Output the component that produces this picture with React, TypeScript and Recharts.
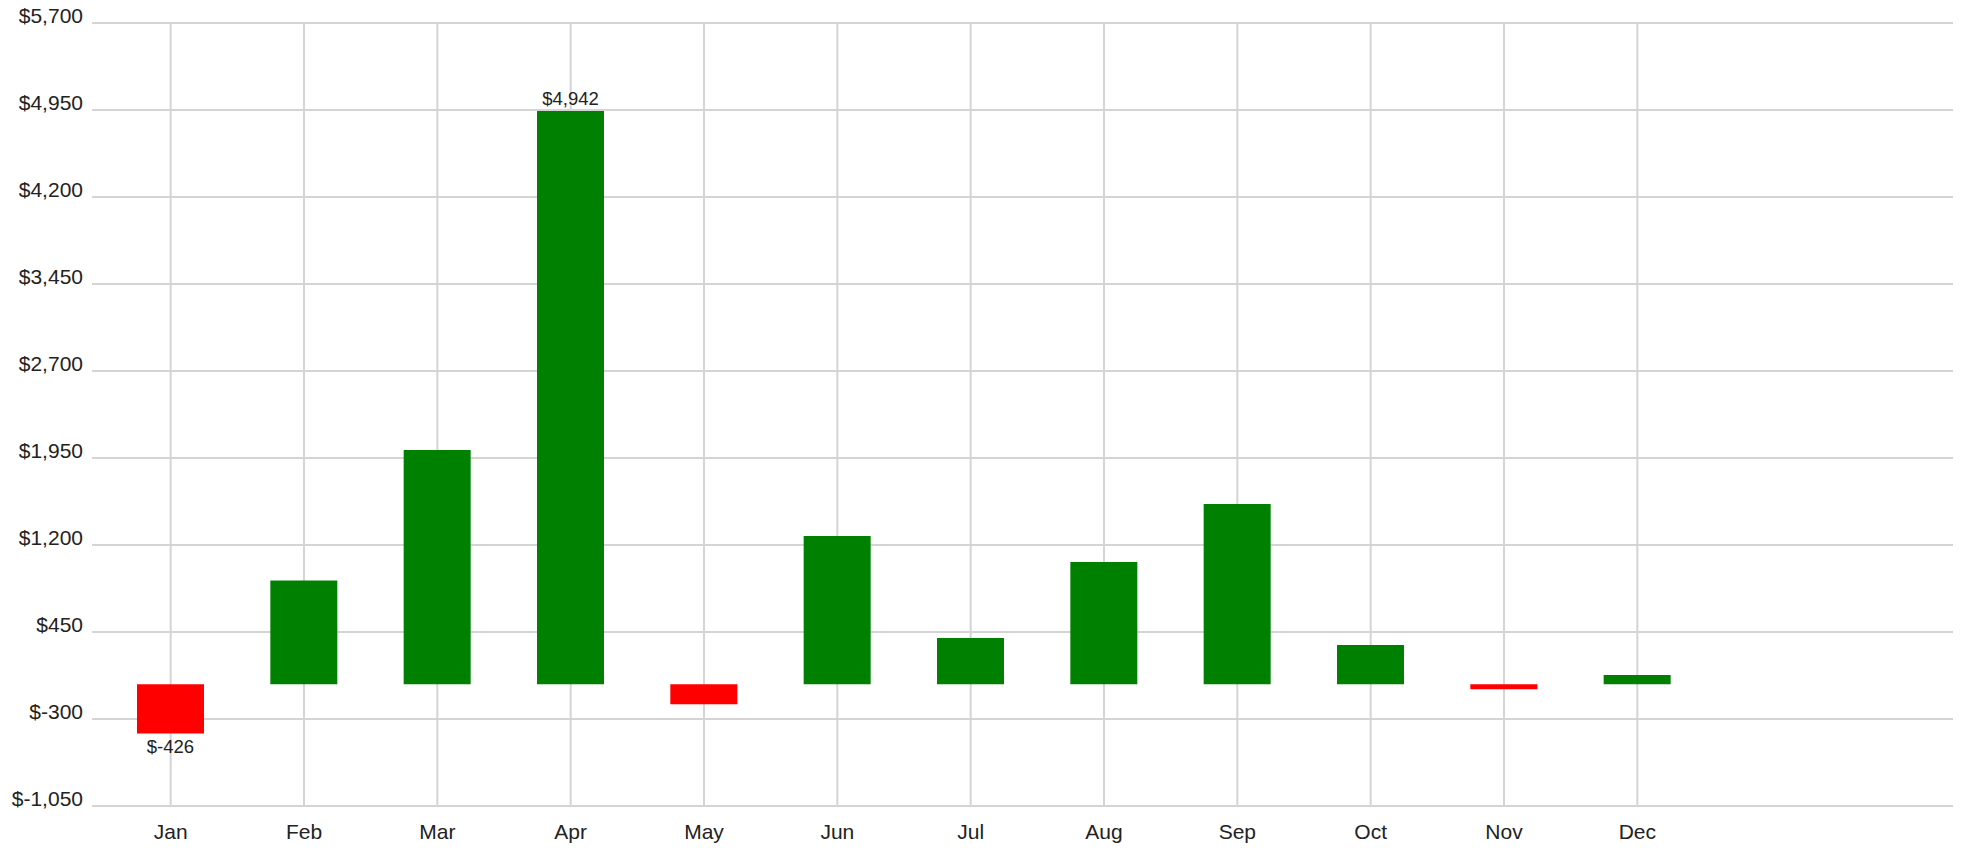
import React from 'react';
import { BarChart, Bar, XAxis, YAxis, CartesianGrid, Cell, LabelList } from 'recharts';

const months = ['Jan', 'Feb', 'Mar', 'Apr', 'May', 'Jun', 'Jul', 'Aug', 'Sep', 'Oct', 'Nov', 'Dec'];
const profit = [-426, 895, 2019, 4942, -172, 1277, 398, 1053, 1553, 338, -43, 79];
const yTicks = [-1050, -300, 450, 1200, 1950, 2700, 3450, 4200, 4950, 5700];

const chartData = months.map((m, i) => ({ month: m, profit: profit[i] }));
const maxVal = Math.max(...profit);
const minVal = Math.min(...profit);

const FONT = '"Liberation Sans", Arial, sans-serif';

const money = (v: number) => `$${v.toLocaleString('en-US')}`;

const YTick = (props: any) => {
  const { x, y, payload } = props;
  return (
    <text x={x - 1} y={y} textAnchor="end" fontFamily={FONT} fontSize={21} fill="#222">
      {money(payload.value)}
    </text>
  );
};

const XTick = (props: any) => {
  const { x, y, payload } = props;
  return (
    <text x={x} y={y} dy={24.5} textAnchor="middle" fontFamily={FONT} fontSize={21} fill="#222">
      {payload.value}
    </text>
  );
};

// only the highest and lowest months get a value label
const EdgeLabel = (props: any) => {
  const { x, y, width, height, value } = props;
  if (value !== maxVal && value !== minVal) return null;
  const top = Math.min(y, y + height);
  const bottom = Math.max(y, y + height);
  const cx = x + width / 2;
  const ly = value >= 0 ? top - 6 : bottom + 19.5;
  return (
    <text x={cx} y={ly} textAnchor="middle" fontFamily={FONT} fontSize={18.5} fill="#222">
      {money(value)}
    </text>
  );
};

export default function App() {
  return (
    <div style={{ position: 'absolute', left: 0, top: 0, width: 1965, height: 848, background: '#fff' }}>
      <BarChart
        width={1965}
        height={848}
        data={chartData}
        margin={{ top: 23, right: 12, bottom: 12, left: 0 }}
      >
        {/* syncWithTicks keeps the grid off the plot edges */}
        <CartesianGrid stroke="#d4d4d4" strokeWidth={2} syncWithTicks />
        <XAxis
          dataKey="month"
          height={30}
          axisLine={false}
          tickLine={false}
          interval={0}
          padding={{ left: 12, right: 249 }}
          tick={<XTick />}
        />
        <YAxis
          width={92}
          domain={[-1050, 5700]}
          ticks={yTicks}
          axisLine={false}
          tickLine={false}
          interval={0}
          tick={<YTick />}
        />
        <Bar dataKey="profit" barSize={67} isAnimationActive={false}>
          {chartData.map((d, i) => (
            <Cell key={i} fill={d.profit < 0 ? '#ff0000' : '#008000'} />
          ))}
          <LabelList dataKey="profit" content={<EdgeLabel />} />
        </Bar>
      </BarChart>
    </div>
  );
}
